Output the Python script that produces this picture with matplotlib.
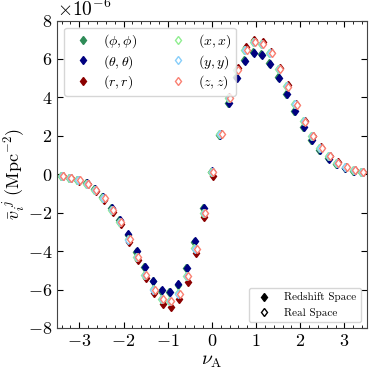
import numpy as np
import matplotlib
matplotlib.use("Agg")
import matplotlib.pyplot as plt
from matplotlib.lines import Line2D
from matplotlib.ticker import MultipleLocator

plt.rcParams['font.family'] = 'serif'
plt.rcParams['font.serif'] = ['cmr10', 'DejaVu Serif']
plt.rcParams['mathtext.fontset'] = 'cm'
plt.rcParams['axes.formatter.use_mathtext'] = True

# threshold values nu_A (bin centres)
nu = np.linspace(-3.4, 3.4, 37)

# redshift space (units of 1e-6 Mpc^-2)
v_theta = [-0.09, -0.17, -0.30, -0.46, -0.78, -1.18, -1.75, -2.36, -3.13, -4.00,
           -4.81, -5.54, -6.03, -6.11, -5.73, -4.87, -3.48, -1.73, 0.15, 2.05,
           3.71, 5.02, 5.92, 6.32, 6.22, 5.75, 5.02, 4.16, 3.29, 2.46,
           1.77, 1.25, 0.82, 0.52, 0.33, 0.19, 0.11]
v_phi = [-0.09, -0.17, -0.30, -0.46, -0.79, -1.19, -1.77, -2.38, -3.16, -4.03,
         -4.85, -5.58, -6.07, -6.15, -5.76, -4.90, -3.50, -1.75, 0.14, 2.06,
         3.73, 5.04, 5.94, 6.34, 6.24, 5.77, 5.04, 4.18, 3.31, 2.47,
         1.78, 1.26, 0.83, 0.53, 0.34, 0.19, 0.11]
v_r = [-0.10, -0.18, -0.33, -0.51, -0.87, -1.32, -1.95, -2.58, -3.50, -4.45,
       -5.38, -6.16, -6.77, -6.89, -6.51, -5.59, -4.12, -2.22, -0.10, 2.10,
       4.02, 5.55, 6.60, 7.00, 6.87, 6.38, 5.55, 4.63, 3.68, 2.78,
       2.01, 1.40, 0.96, 0.62, 0.38, 0.21, 0.12]

# real space
v_x = [-0.09, -0.17, -0.31, -0.48, -0.83, -1.26, -1.87, -2.48, -3.39, -4.29,
       -5.25, -5.99, -6.49, -6.58, -6.20, -5.28, -3.86, -2.01, 0.12, 2.11,
       3.98, 5.45, 6.48, 6.91, 6.79, 6.30, 5.49, 4.57, 3.64, 2.75,
       1.99, 1.39, 0.95, 0.61, 0.38, 0.21, 0.12]
v_y = [-0.09, -0.17, -0.31, -0.48, -0.83, -1.26, -1.88, -2.49, -3.40, -4.30,
       -5.26, -6.00, -6.50, -6.59, -6.21, -5.29, -3.87, -2.02, 0.11, 2.11,
       3.98, 5.45, 6.48, 6.91, 6.79, 6.30, 5.49, 4.57, 3.64, 2.75,
       1.99, 1.39, 0.95, 0.61, 0.38, 0.21, 0.12]
v_z = [-0.09, -0.17, -0.31, -0.48, -0.83, -1.26, -1.87, -2.49, -3.39, -4.30,
       -5.26, -6.00, -6.50, -6.58, -6.21, -5.29, -3.87, -2.02, 0.10, 2.10,
       3.97, 5.44, 6.47, 6.90, 6.78, 6.29, 5.48, 4.56, 3.63, 2.74,
       1.98, 1.38, 0.94, 0.60, 0.37, 0.20, 0.11]

fig, ax = plt.subplots(figsize=(3.74, 3.74), dpi=100)
ms = 4.5
sc = 1e-6

ax.plot(nu - 0.02, np.array(v_phi) * sc, 'd', color='seagreen', ms=ms, label=r'$(\phi,\phi)$')
ax.plot(nu, np.array(v_theta) * sc, 'd', color='navy', ms=ms, label=r'$(\theta,\theta)$')
ax.plot(nu + 0.02, np.array(v_r) * sc, 'd', color='darkred', ms=ms, label=r'$(r,r)$')
ax.plot(nu - 0.02, np.array(v_x) * sc, 'd', color='lightgreen', mfc='white', mew=1.0, ms=ms, label=r'$(x,x)$')
ax.plot(nu, np.array(v_y) * sc, 'd', color='lightskyblue', mfc='white', mew=1.0, ms=ms, label=r'$(y,y)$')
ax.plot(nu + 0.03, np.array(v_z) * sc, 'd', color='salmon', mfc='white', mew=1.0, ms=ms, label=r'$(z,z)$')

leg1 = ax.legend(loc='upper left', ncol=2, fontsize=10, handletextpad=0.45,
                 columnspacing=1.9, borderpad=0.35, labelspacing=0.2)
ax.add_artist(leg1)
h2 = [Line2D([], [], marker='d', ls='', color='black', ms=ms),
      Line2D([], [], marker='d', ls='', color='black', mfc='white', ms=ms)]
ax.legend(h2, ['Redshift Space', 'Real Space'], loc='lower right', fontsize=8)

ax.set_xlim(-3.5, 3.5)
ax.set_ylim(-8e-6, 8e-6)
ax.set_xticks([-3, -2, -1, 0, 1, 2, 3])
ax.xaxis.set_minor_locator(MultipleLocator(0.2))
ax.set_yticks(np.arange(-8e-6, 8.1e-6, 2e-6))
ax.tick_params(which='both', direction='in', top=True, right=True, labelsize=13)
ax.tick_params(which='major', length=4)
ax.tick_params(which='minor', length=2)
ax.yaxis.get_offset_text().set_fontsize(14)
for s in ax.spines.values():
    s.set_color('#444444')

ax.set_xlabel(r'$\nu_{\rm A}$', fontsize=14, labelpad=2)
ax.set_ylabel(r'$\bar{v}_i^{\ j}\ (\mathrm{Mpc}^{-2})$', fontsize=13, labelpad=0)

fig.subplots_adjust(left=0.153, right=0.98, top=0.945, bottom=0.123)
fig.savefig('out.png', dpi=100)
